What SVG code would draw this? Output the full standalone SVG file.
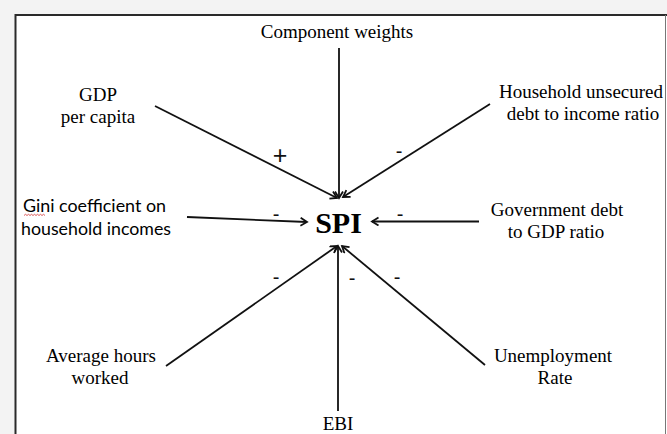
<svg xmlns="http://www.w3.org/2000/svg" width="667" height="434" viewBox="0 0 667 434">
  <defs>
    <marker id="arr" markerUnits="userSpaceOnUse" markerWidth="12" markerHeight="12" refX="7" refY="4.5" orient="auto">
      <path d="M0.5,0.5 L7,4.5 L0.5,8.5" fill="none" stroke="#111" stroke-width="1.8" stroke-linejoin="miter"/>
    </marker>
  </defs>
  <style>
    .t { font-family: "Liberation Serif", "Times New Roman", serif; font-size: 19px; fill: #000; text-anchor: middle; }
    .spi { font-family: "Liberation Serif", "Times New Roman", serif; font-size: 30px; font-weight: bold; fill: #000; text-anchor: middle; }
    .sans { font-family: Lato, "Liberation Sans", sans-serif; font-size: 17.5px; fill: #000; }
    .sign { font-family: "Liberation Sans", Arial, sans-serif; font-size: 20px; fill: #111; text-anchor: middle; }
    .plus { font-family: "Liberation Sans", Arial, sans-serif; font-size: 25px; fill: #111; text-anchor: middle; }
    .edge { stroke: #111; stroke-width: 1.8; fill: none; marker-end: url(#arr); }
  </style>

  <rect x="0" y="0" width="667" height="434" fill="#f3f3f3"/>
  <rect x="16" y="15" width="651" height="419" fill="#ffffff"/>
  <path d="M15.5,434 L15.5,15 L667,15" fill="none" stroke="#2a2a2a" stroke-width="2"/>
  <line x1="665.5" y1="15" x2="665.5" y2="434" stroke="#777" stroke-width="1"/>

  <g id="connectors">
    <line class="edge" x1="339" y1="48" x2="339" y2="198"/>
    <line class="edge" x1="155" y1="106" x2="337" y2="198"/>
    <line class="edge" x1="490" y1="104" x2="343" y2="197"/>
    <line class="edge" x1="187" y1="217" x2="307" y2="222"/>
    <line class="edge" x1="479" y1="221.5" x2="372" y2="221.5"/>
    <line class="edge" x1="166" y1="366" x2="337" y2="246"/>
    <line class="edge" x1="338" y1="411" x2="338" y2="246"/>
    <line class="edge" x1="485" y1="365" x2="342" y2="246"/>
  </g>

  <g id="signs">
    <text class="plus" x="280" y="164">+</text>
    <text class="sign" x="399" y="158">-</text>
    <text class="sign" x="276" y="221">-</text>
    <text class="sign" x="400" y="221">-</text>
    <text class="sign" x="276" y="284">-</text>
    <text class="sign" x="352" y="285">-</text>
    <text class="sign" x="397" y="284">-</text>
  </g>

  <g id="node-spi">
    <text class="spi" x="338.5" y="233">SPI</text>
  </g>
  <g id="node-component-weights">
    <text class="t" x="337" y="38">Component weights</text>
  </g>
  <g id="node-gdp">
    <text class="t" x="98" y="101">GDP</text>
    <text class="t" x="98" y="123">per capita</text>
  </g>
  <g id="node-household-debt">
    <text class="t" x="581" y="98">Household unsecured</text>
    <text class="t" x="583" y="120">debt to income ratio</text>
  </g>
  <g id="node-gini">
    <text class="sans" x="23" y="212" textLength="143" lengthAdjust="spacingAndGlyphs">Gini coefficient on</text>
    <text class="sans" x="21" y="235" textLength="150" lengthAdjust="spacingAndGlyphs">household incomes</text>
    <path d="M24,215.5 l1.5,-1.2 l1.5,1.2 l1.5,-1.2 l1.5,1.2 l1.5,-1.2 l1.5,1.2 l1.5,-1.2 l1.5,1.2 l1.5,-1.2 l1.5,1.2 l1.5,-1.2 l1.5,1.2 l1.5,-1.2 l1.5,1.2" fill="none" stroke="#d03030" stroke-width="0.8"/>
  </g>
  <g id="node-government-debt">
    <text class="t" x="557" y="216">Government debt</text>
    <text class="t" x="556" y="238">to GDP ratio</text>
  </g>
  <g id="node-average-hours">
    <text class="t" x="101" y="362">Average hours</text>
    <text class="t" x="100" y="384">worked</text>
  </g>
  <g id="node-unemployment">
    <text class="t" x="553" y="362">Unemployment</text>
    <text class="t" x="555" y="384">Rate</text>
  </g>
  <g id="node-ebi">
    <text class="t" x="338" y="430">EBI</text>
  </g>
</svg>
